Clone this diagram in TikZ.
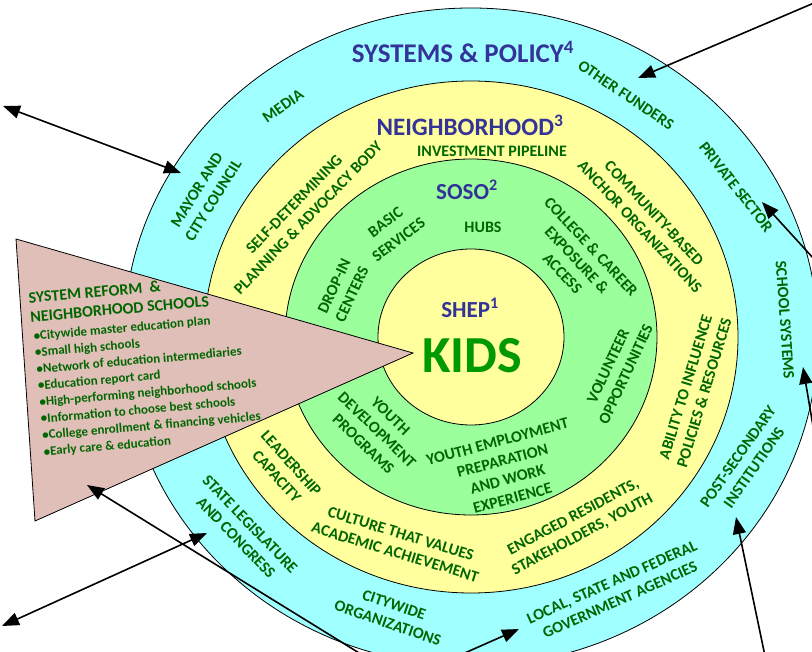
\documentclass[tikz,border=0pt]{standalone}
\usepackage{fontspec}
\setmainfont{Carlito}
\usetikzlibrary{arrows.meta}
\definecolor{cyn}{RGB}{160,255,255}
\definecolor{ylw}{RGB}{255,255,158}
\definecolor{grn}{RGB}{155,255,155}
\definecolor{tri}{RGB}{224,191,184}
\definecolor{ttl}{RGB}{51,51,153}
\definecolor{lbl}{RGB}{0,102,0}
\definecolor{kidc}{RGB}{0,153,0}
\begin{document}
\begin{tikzpicture}[x=1pt,y=-1pt,
  ring/.style={draw=black,line width=0.8pt},
  lab/.style={text=lbl,font=\fontsize{16}{19.5}\selectfont\bfseries,align=center,inner sep=0pt},
  ttlab/.style={text=ttl,font=\fontsize{#1}{#1}\selectfont\bfseries,inner sep=0pt},
  arr/.style={line width=1.6pt,-{Triangle[length=17pt,width=13pt]}},
  darr/.style={line width=1.6pt,{Triangle[length=17pt,width=13pt]}-{Triangle[length=17pt,width=13pt]}}
]
\useasboundingbox (0,0) rectangle (812,652);
\clip (0,0) rectangle (812,652);
\fill[white] (0,0) rectangle (812,652);
% rings
\coordinate (ctr) at (471,337);
\draw[ring,fill=cyn] (ctr) ellipse [x radius=347, y radius=329];
\draw[ring,fill=ylw] (ctr) ellipse [x radius=267, y radius=256];
\draw[ring,fill=grn] (ctr) ellipse [x radius=186, y radius=178];
\draw[ring,fill=ylw] (ctr) ellipse [x radius=93, y radius=88];
% triangle
\draw[fill=tri,line width=0.8pt] (16,239) -- (413,353) -- (35,521) -- cycle;
\node[anchor=north west,rotate=5,inner sep=0pt,align=left,text=lbl,
  font=\fontsize{16}{19}\selectfont\bfseries] (srh) at (28,292)
  {SYSTEM REFORM \ \&\\NEIGHBORHOOD SCHOOLS};
\node[anchor=north west,rotate=5,inner sep=0pt,align=left,text=lbl,
  font=\fontsize{13}{16.6}\selectfont\bfseries] (srb) at (33,331)
  {•Citywide master education plan\\
   •Small high schools\\
   •Network of education intermediaries\\
   •Education report card\\
   •High-performing neighborhood schools\\
   •Information to choose best schools\\
   •College enrollment \& financing vehicles\\
   •Early care \& education};
% titles
\node[ttlab=27] (tsys) at (463,52) {SYSTEMS \& POLICY\textsuperscript{4}};
\node[ttlab=25] (tnei) at (470,125) {NEIGHBORHOOD\textsuperscript{3}};
\node[ttlab=23] (tsoso) at (467,190) {SOSO\textsuperscript{2}};
\node[ttlab=23] (tshep) at (470,308) {SHEP\textsuperscript{1}};
\node[text=kidc,font=\fontsize{52}{52}\selectfont\bfseries,inner sep=0pt] (kids) at (472,356) {KIDS};
% labels
\node[lab] (inv) at (492,151) {INVESTMENT PIPELINE};
\node[lab] (hubs) at (483,227) {HUBS};
\node[lab,rotate=35] (media) at (283,106) {MEDIA};
\node[lab,rotate=58] (mayor) at (205,195) {MAYOR AND\\CITY COUNCIL};
\node[lab,rotate=46] (selfd) at (301,211) {SELF-DETERMINING\\PLANNING \& ADVOCACY BODY};
\node[lab,rotate=37,font=\fontsize{16}{22}\selectfont\bfseries] (basic) at (392,231) {BASIC\\SERVICES};
\node[lab,rotate=65] (drop) at (343,290) {DROP-IN\\CENTERS};
\node[lab,rotate=-34] (funders) at (626,95) {OTHER FUNDERS};
\node[lab,rotate=-52] (priv) at (736,187) {PRIVATE SECTOR};
\node[lab,rotate=-86] (schools) at (785,320) {SCHOOL SYSTEMS};
\node[lab,rotate=-47] (cbo) at (647,220) {COMMUNITY-BASED\\ANCHOR ORGANIZATIONS};
\node[lab,rotate=-47] (college) at (577,260) {COLLEGE \& CAREER\\EXPOSURE \&\\ACCESS};
\node[lab,rotate=65] (volun) at (617,370) {VOLUNTEER\\OPPORTUNITIES};
\node[lab,rotate=73] (ability) at (695,390) {ABILITY TO INFLUENCE\\POLICIES \& RESOURCES};
\node[lab,rotate=55] (postsec) at (746,462) {POST-SECONDARY\\INSTITUTIONS};
\node[lab,rotate=24] (gov) at (616,591) {LOCAL, STATE AND FEDERAL\\GOVERNMENT AGENCIES};
\node[lab,rotate=28] (engaged) at (578,526) {ENGAGED RESIDENTS,\\STAKEHOLDERS, YOUTH};
\node[lab,rotate=-17] (culture) at (398,543) {CULTURE THAT VALUES\\ACADEMIC ACHIEVEMENT};
\node[lab,rotate=-19] (cityorg) at (391,614) {CITYWIDE\\ORGANIZATIONS};
\node[lab,rotate=-46] (state) at (243,531) {STATE LEGISLATURE\\AND CONGRESS};
\node[lab,rotate=-48] (lead) at (284,470) {LEADERSHIP\\CAPACITY};
\node[lab,rotate=-44] (ydev) at (377,430) {YOUTH\\DEVELOPMENT\\PROGRAMS};
\node[lab,rotate=15] (yemp) at (505,470) {YOUTH EMPLOYMENT\\PREPARATION\\AND WORK\\EXPERIENCE};
% arrow end points
\coordinate (a1s) at (3,106);   \coordinate (a1e) at (181,173);
\coordinate (a2s) at (814,3);   \coordinate (a2e) at (638,78);
\coordinate (a3s) at (814,259); \coordinate (a3e) at (762,202);
\coordinate (a4s) at (814,432); \coordinate (a4e) at (803,367);
\coordinate (a5s) at (765,656); \coordinate (a5e) at (736,517);
\coordinate (a6s) at (458,656); \coordinate (a6e) at (519,629);
\coordinate (a7s) at (2,626);   \coordinate (a7e) at (207,533);
\coordinate (a8s) at (364,656); \coordinate (a8e) at (87,485);
\draw[darr] (a1s) -- (a1e);
\draw[arr] (a2s) -- (a2e);
\draw[arr] (a3s) -- (a3e);
\draw[arr] (a4s) -- (a4e);
\draw[arr] (a5s) -- (a5e);
\draw[arr] (a6s) -- (a6e);
\draw[darr] (a7s) -- (a7e);
\draw[arr] (a8s) -- (a8e);
\end{tikzpicture}
\end{document}
